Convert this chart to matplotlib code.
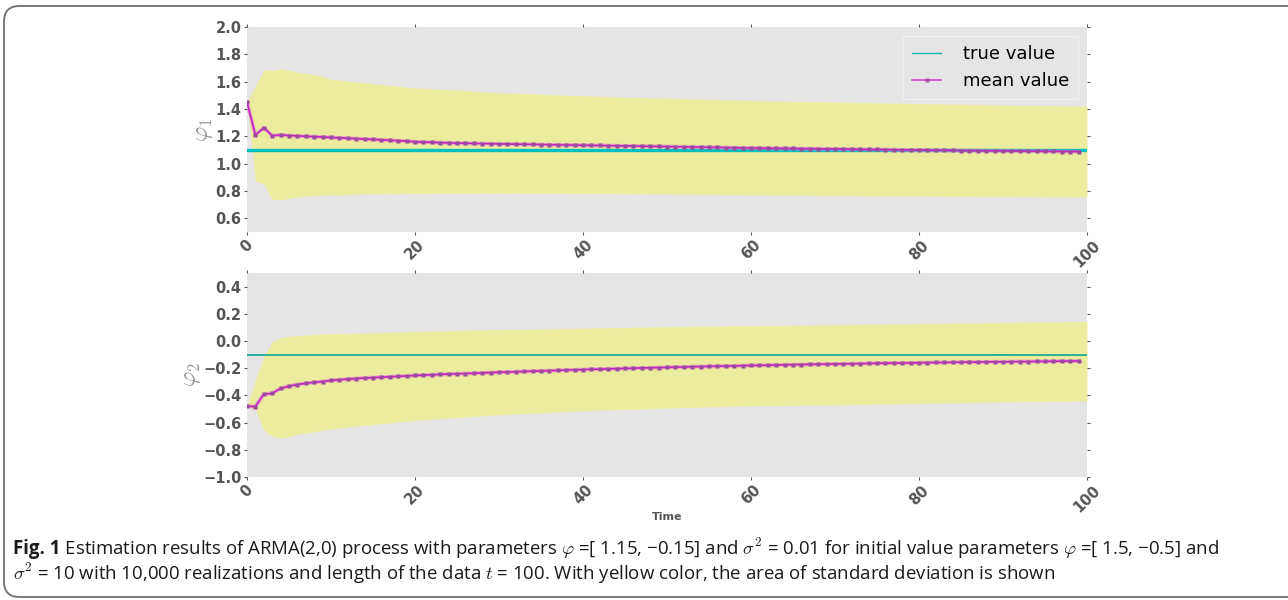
import matplotlib
matplotlib.use("Agg")
import matplotlib.pyplot as plt
from matplotlib.lines import Line2D
from matplotlib.patches import FancyBboxPatch

plt.rcParams["mathtext.fontset"] = "cm"
plt.rcParams["axes.unicode_minus"] = True

# time axis
time_mean = list(range(100))
time_band = list(range(101))

# phi_1 estimates
phi1_true = 1.1
phi1_mean = [
    1.450, 1.210, 1.262, 1.205, 1.210, 1.206, 1.203, 1.200, 1.198, 1.195,
    1.192, 1.189, 1.186, 1.183, 1.180, 1.177, 1.174, 1.171, 1.168, 1.165,
    1.160, 1.158, 1.156, 1.154, 1.152, 1.150, 1.149, 1.148, 1.147, 1.146,
    1.145, 1.144, 1.143, 1.142, 1.141, 1.140, 1.139, 1.138, 1.137, 1.136,
    1.135, 1.134, 1.133, 1.132, 1.131, 1.130, 1.129, 1.128, 1.127, 1.126,
    1.125, 1.124, 1.123, 1.122, 1.121, 1.120, 1.119, 1.118, 1.117, 1.116,
    1.115, 1.114, 1.113, 1.112, 1.112, 1.111, 1.110, 1.110, 1.109, 1.108,
    1.108, 1.107, 1.106, 1.105, 1.104, 1.104, 1.103, 1.102, 1.101, 1.100,
    1.100, 1.099, 1.098, 1.098, 1.097, 1.096, 1.096, 1.095, 1.094, 1.094,
    1.093, 1.093, 1.092, 1.091, 1.091, 1.090, 1.090, 1.089, 1.089, 1.088,
]
phi1_upper = [
    1.450, 1.570, 1.685, 1.683, 1.695, 1.685, 1.668, 1.660, 1.652, 1.640,
    1.618, 1.612, 1.605, 1.598, 1.592, 1.585, 1.580, 1.572, 1.566, 1.560,
    1.554, 1.552, 1.548, 1.545, 1.542, 1.538, 1.535, 1.530, 1.527, 1.523,
    1.520, 1.518, 1.516, 1.513, 1.510, 1.508, 1.505, 1.503, 1.501, 1.499,
    1.497, 1.495, 1.493, 1.491, 1.489, 1.487, 1.485, 1.483, 1.481, 1.479,
    1.478, 1.476, 1.475, 1.473, 1.472, 1.470, 1.469, 1.467, 1.466, 1.464,
    1.463, 1.462, 1.460, 1.459, 1.458, 1.456, 1.455, 1.454, 1.452, 1.451,
    1.450, 1.449, 1.448, 1.447, 1.446, 1.445, 1.444, 1.443, 1.442, 1.441,
    1.440, 1.439, 1.438, 1.437, 1.436, 1.435, 1.434, 1.433, 1.432, 1.431,
    1.430, 1.429, 1.428, 1.427, 1.426, 1.425, 1.424, 1.423, 1.422, 1.421, 1.420,
]
phi1_lower = [
    1.450, 0.873, 0.849, 0.738, 0.735, 0.745, 0.757, 0.762, 0.766, 0.770,
    0.772, 0.770, 0.774, 0.776, 0.778, 0.777, 0.779, 0.780, 0.778, 0.781,
    0.782, 0.783, 0.782, 0.784, 0.783, 0.785, 0.784, 0.785, 0.786, 0.785,
    0.786, 0.785, 0.786, 0.785, 0.784, 0.785, 0.784, 0.783, 0.783, 0.782,
    0.782, 0.781, 0.781, 0.780, 0.780, 0.779, 0.779, 0.778, 0.778, 0.777,
    0.777, 0.776, 0.776, 0.775, 0.775, 0.774, 0.774, 0.773, 0.773, 0.772,
    0.772, 0.771, 0.771, 0.770, 0.770, 0.769, 0.769, 0.768, 0.768, 0.767,
    0.767, 0.766, 0.766, 0.765, 0.765, 0.764, 0.764, 0.764, 0.763, 0.763,
    0.763, 0.762, 0.762, 0.762, 0.761, 0.761, 0.761, 0.760, 0.760, 0.760,
    0.760, 0.759, 0.759, 0.759, 0.759, 0.758, 0.758, 0.758, 0.758, 0.757, 0.757,
]

# phi_2 estimates
phi2_true = -0.1
phi2_mean = [
    -0.480, -0.482, -0.391, -0.385, -0.349, -0.332, -0.320, -0.311, -0.304, -0.298,
    -0.290, -0.285, -0.280, -0.276, -0.272, -0.269, -0.266, -0.263, -0.260, -0.257,
    -0.253, -0.251, -0.248, -0.246, -0.243, -0.241, -0.239, -0.237, -0.235, -0.232,
    -0.230, -0.228, -0.226, -0.224, -0.222, -0.220, -0.218, -0.216, -0.214, -0.212,
    -0.210, -0.208, -0.207, -0.205, -0.203, -0.202, -0.200, -0.198, -0.197, -0.195,
    -0.194, -0.192, -0.191, -0.189, -0.188, -0.187, -0.185, -0.184, -0.183, -0.181,
    -0.180, -0.179, -0.178, -0.176, -0.175, -0.174, -0.173, -0.172, -0.171, -0.170,
    -0.169, -0.168, -0.167, -0.166, -0.165, -0.164, -0.163, -0.162, -0.162, -0.161,
    -0.160, -0.159, -0.158, -0.158, -0.157, -0.156, -0.155, -0.155, -0.154, -0.153,
    -0.153, -0.152, -0.151, -0.151, -0.150, -0.150, -0.149, -0.148, -0.148, -0.147,
]
phi2_upper = [
    -0.480, -0.290, -0.115, -0.005, 0.023, 0.035, 0.040, 0.044, 0.048, 0.051,
    0.053, 0.055, 0.057, 0.058, 0.060, 0.062, 0.063, 0.065, 0.066, 0.068,
    0.070, 0.071, 0.073, 0.074, 0.075, 0.077, 0.078, 0.080, 0.081, 0.083,
    0.084, 0.085, 0.086, 0.087, 0.088, 0.089, 0.090, 0.091, 0.092, 0.093,
    0.095, 0.096, 0.097, 0.098, 0.099, 0.100, 0.101, 0.102, 0.103, 0.104,
    0.105, 0.105, 0.106, 0.107, 0.108, 0.108, 0.109, 0.110, 0.111, 0.111,
    0.112, 0.113, 0.114, 0.115, 0.116, 0.117, 0.117, 0.118, 0.119, 0.120,
    0.121, 0.121, 0.122, 0.123, 0.124, 0.124, 0.125, 0.126, 0.127, 0.127,
    0.128, 0.129, 0.130, 0.130, 0.131, 0.132, 0.133, 0.133, 0.134, 0.135,
    0.136, 0.136, 0.137, 0.138, 0.139, 0.139, 0.140, 0.141, 0.142, 0.142, 0.143,
]
phi2_lower = [
    -0.480, -0.505, -0.655, -0.700, -0.712, -0.705, -0.685, -0.676, -0.668, -0.657,
    -0.646, -0.640, -0.633, -0.626, -0.620, -0.614, -0.608, -0.602, -0.596, -0.590,
    -0.583, -0.579, -0.575, -0.571, -0.567, -0.563, -0.558, -0.554, -0.550, -0.546,
    -0.543, -0.540, -0.537, -0.534, -0.531, -0.528, -0.525, -0.522, -0.519, -0.516,
    -0.513, -0.511, -0.509, -0.507, -0.505, -0.503, -0.501, -0.499, -0.497, -0.495,
    -0.493, -0.491, -0.489, -0.488, -0.486, -0.485, -0.483, -0.482, -0.480, -0.479,
    -0.478, -0.477, -0.476, -0.475, -0.474, -0.473, -0.472, -0.471, -0.470, -0.469,
    -0.469, -0.468, -0.467, -0.466, -0.465, -0.464, -0.463, -0.462, -0.461, -0.460,
    -0.459, -0.458, -0.457, -0.456, -0.455, -0.454, -0.453, -0.452, -0.451, -0.450,
    -0.449, -0.448, -0.447, -0.446, -0.445, -0.444, -0.443, -0.442, -0.441, -0.440, -0.439,
]

x_ticks = [0, 20, 40, 60, 80, 100]
phi1_ticks = [0.6, 0.8, 1.0, 1.2, 1.4, 1.6, 1.8, 2.0]
phi2_ticks = [-1.0, -0.8, -0.6, -0.4, -0.2, 0.0, 0.2, 0.4]

BAND = "#ecec9f"
BG = "#e5e5e5"
TICK = "#555555"
MEAN = "#c81ec8"

W, H = 1288, 600
fig = plt.figure(figsize=(W / 100, H / 100), dpi=100)

# rounded caption frame (runs off the right edge like the source page)
frame = FancyBboxPatch((4 / W, 3 / H), 1.05, (594 - 3) / H, boxstyle="round,pad=0,rounding_size=0.012",
                       transform=fig.transFigure, facecolor="none", edgecolor="#6e6e6e", linewidth=1.3,
                       mutation_aspect=W / H, zorder=-1)
fig.patches.append(frame)


def panel(rect, mean, upper, lower, true_val, ylim, yticks, ylabel, true_lw, true_color):
    ax = fig.add_axes(rect)
    ax.set_facecolor(BG)
    for s in ax.spines.values():
        s.set_visible(False)
    ax.fill_between(time_band, lower, upper, color=BAND, linewidth=0, zorder=1)
    ax.axhline(true_val, color=true_color, lw=true_lw, zorder=2)
    ax.plot(time_mean, mean, color="#dc7ccc", lw=2.8, alpha=0.55, zorder=3)
    ax.plot(time_mean, mean, color=MEAN, lw=1.2, marker="s", ms=2.8,
            mfc="#9c4a9c", mec="none", zorder=4)
    ax.set_xlim(0, 100)
    ax.set_ylim(*ylim)
    ax.set_xticks(x_ticks)
    ax.set_yticks(yticks)
    ax.set_yticklabels([f"{v:.1f}".replace("-", "\u2212") for v in yticks])
    ax.set_xticklabels([str(v) for v in x_ticks], rotation=45, ha="center", va="top")
    ax.tick_params(direction="out", length=2.5, width=0.8, color=TICK, labelcolor=TICK,
                   labelsize=10.5, top=True, right=True, pad=1.5)
    for lab in ax.get_xticklabels() + ax.get_yticklabels():
        lab.set_fontweight("bold")
    ax.set_ylabel(ylabel, color="#9a9a9a", fontsize=17, labelpad=0)
    return ax


ax1 = panel([247 / W, 1 - 232 / H, 840 / W, 205 / H], phi1_mean, phi1_upper, phi1_lower,
            phi1_true, (0.5, 2.0), phi1_ticks, r"$\varphi_1$", 2.4, "#00c0c0")
ax2 = panel([247 / W, 1 - 477 / H, 840 / W, 204 / H], phi2_mean, phi2_upper, phi2_lower,
            phi2_true, (-1.0, 0.5), phi2_ticks, r"$\varphi_2$", 1.3, "#20aa98")

handles = [
    Line2D([], [], color="#20b8b0", lw=1.0),
    Line2D([], [], color=MEAN, lw=1.2, marker="s", ms=2.5, mfc="#9c4a9c", mec="none", alpha=0.8),
]
leg = ax1.legend(handles, ["true value", "mean value"], loc="upper right", fontsize=13,
                 handlelength=1.6, handletextpad=1.2, frameon=True, fancybox=False, borderpad=0.5)
leg.get_frame().set_facecolor(BG)
leg.get_frame().set_edgecolor("#f2f2f2")
leg.get_frame().set_linewidth(0.8)

fig.text(667 / W, 1 - 517 / H, "Time", ha="center", va="center", fontsize=8,
         fontweight="bold", color=TICK)

# caption
cap_font = dict(family="Open Sans", fontsize=13.4, color="#1a1a1a")
line1 = (" Estimation results of ARMA(2,0) process with parameters $\\varphi$ =[ 1.15, \u22120.15] and "
         "$\\sigma^2$ = 0.01 for initial value parameters $\\varphi$ =[ 1.5, \u22120.5] and")
line2 = ("$\\sigma^2$ = 10 with 10,000 realizations and length of the data $t$ = 100. "
         "With yellow color, the area of standard deviation is shown")
fig_lbl = fig.text(13 / W, 1 - 549 / H, "Fig. 1", fontweight="bold", va="center", ha="left", **cap_font)
fig.canvas.draw()
bb = fig_lbl.get_window_extent()
fig.text(bb.x1 / W, 1 - 549 / H, line1, va="center", ha="left", **cap_font)
fig.text(13 / W, 1 - 574 / H, line2, va="center", ha="left", **cap_font)

fig.savefig("out.png", dpi=100)
